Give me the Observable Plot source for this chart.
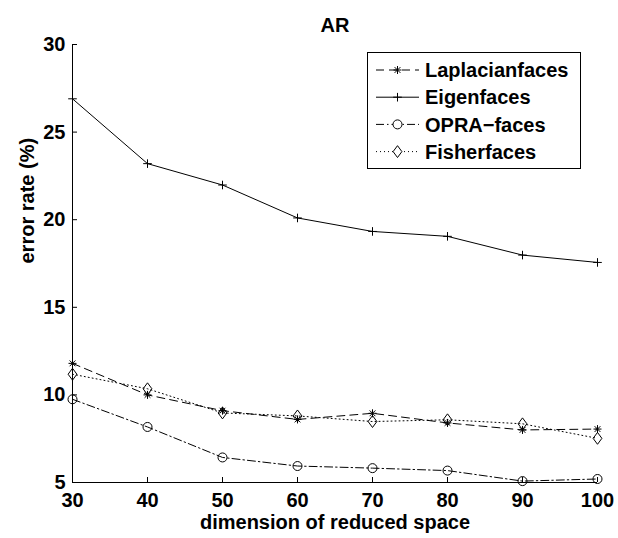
<!DOCTYPE html>
<html>
<head>
<meta charset="utf-8">
<script src="https://cdn.jsdelivr.net/npm/d3@7"></script>
<script src="https://cdn.jsdelivr.net/npm/@observablehq/plot@0.6"></script>
<style>
  html, body { margin: 0; padding: 0; background: #fff; }
  #chart { position: relative; width: 618px; height: 538px; }
</style>
</head>
<body>
<div id="chart"></div>
<script>
// ---- data ----
const dims = [30, 40, 50, 60, 70, 80, 90, 100];
const laplacianfaces = [11.8, 10.0, 9.1, 8.6, 8.95, 8.4, 8.0, 8.05];
const eigenfaces     = [26.9, 23.2, 21.98, 20.1, 19.33, 19.05, 17.98, 17.56];
const opraFaces      = [9.75, 8.17, 6.43, 5.94, 5.82, 5.68, 5.08, 5.2];
const fisherfaces    = [11.18, 10.35, 8.97, 8.8, 8.48, 8.58, 8.35, 7.52];
const xTicks = [30, 40, 50, 60, 70, 80, 90, 100];
const yTicks = [5, 10, 15, 20, 25, 30];
const seriesNames = ["Laplacianfaces", "Eigenfaces", "OPRA\u2212faces", "Fisherfaces"];
const titleText = "AR";
const xLabel = "dimension of reduced space";
const yLabel = "error rate (%)";

// ---- symbols (MATLAB-like markers) ----
const rad = s => Math.sqrt(s / Math.PI);
const symStar = {draw(c, s) { const r = rad(s), d = r * 0.72;
  c.moveTo(-r, 0); c.lineTo(r, 0); c.moveTo(0, -r); c.lineTo(0, r);
  c.moveTo(-d, -d); c.lineTo(d, d); c.moveTo(-d, d); c.lineTo(d, -d); }};
const symPlus = {draw(c, s) { const r = rad(s);
  c.moveTo(-r, 0); c.lineTo(r, 0); c.moveTo(0, -r); c.lineTo(0, r); }};
const symCircle = {draw(c, s) { const r = rad(s); c.moveTo(r, 0); c.arc(0, 0, r, 0, 2 * Math.PI); }};
const symDiamond = {draw(c, s) { const r = rad(s);
  c.moveTo(0, -r * 1.35); c.lineTo(r, 0); c.lineTo(0, r * 1.35); c.lineTo(-r, 0); c.closePath(); }};

const series = [
  {name: seriesNames[0], values: laplacianfaces, dash: "8,5", symbol: symStar, r: 4},
  {name: seriesNames[1], values: eigenfaces, dash: null, symbol: symPlus, r: 4.3},
  {name: seriesNames[2], values: opraFaces, dash: "8,3,1.5,3", symbol: symCircle, r: 4.5},
  {name: seriesNames[3], values: fisherfaces, dash: "1,3", symbol: symDiamond, r: 4.4}
];

const W = 618, H = 538;
const mL = 72, mR = 21, mT = 44, mB = 56;
const frameW = W - mL - mR, frameH = H - mT - mB;
const font = "'Liberation Sans', Arial, Helvetica, sans-serif";

const marks = [];
for (const s of series) {
  const rows = dims.map((d, i) => ({x: d, y: s.values[i]}));
  marks.push(Plot.line(rows, {x: "x", y: "y", stroke: "#000", strokeWidth: 1,
    strokeDasharray: s.dash || undefined}));
  marks.push(Plot.dot(rows, {x: "x", y: "y", symbol: s.symbol, r: s.r,
    stroke: "#000", fill: "none", strokeWidth: 1}));
}

const chart = Plot.plot({
  width: W, height: H,
  marginLeft: mL, marginRight: mR, marginTop: mT, marginBottom: mB,
  style: {fontFamily: font, fontWeight: "bold", fontSize: "20px", color: "#000", background: "#fff", overflow: "visible"},
  x: {domain: [xTicks[0], xTicks[xTicks.length - 1]]},
  y: {domain: [yTicks[0], yTicks[yTicks.length - 1]]},
  marks: [
    ...marks,
    Plot.ruleX([xTicks[0]], {stroke: "#000", strokeWidth: 1}),
    Plot.ruleY([yTicks[0]], {stroke: "#000", strokeWidth: 1}),
    Plot.ruleY(yTicks, {y: d => d, stroke: "#000", insetRight: frameW - 5}),
    Plot.ruleX(xTicks, {x: d => d, stroke: "#000", insetTop: frameH - 5}),
    Plot.axisX({ticks: xTicks, tickSize: 0, tickPadding: 10, label: null, fontSize: 20}),
    Plot.axisY({ticks: yTicks, tickSize: 0, tickPadding: 7, label: null, fontSize: 20}),
    Plot.text([titleText], {text: d => d, frameAnchor: "top", lineAnchor: "bottom", dy: -12.5, fontSize: 20, fontWeight: "bold"}),
    Plot.text([xLabel], {text: d => d, frameAnchor: "bottom", lineAnchor: "bottom", dy: 46, fontSize: 20, fontWeight: "bold"}),
    Plot.text([yLabel], {text: d => d, frameAnchor: "left", lineAnchor: "bottom", rotate: -90, dx: -39, fontSize: 20, fontWeight: "bold"})
  ]
});
document.getElementById("chart").appendChild(chart);

// ---- legend (inside the axes, top right) ----
const svg = d3.select(chart);
const lg = svg.append("g").attr("class", "legend").attr("text-anchor", "start");
const box = {x: 367.5, y: 52.5, w: 213, h: 116};
lg.append("rect").attr("x", box.x).attr("y", box.y).attr("width", box.w).attr("height", box.h)
  .attr("fill", "#fff").attr("stroke", "#000").attr("stroke-width", 1);
series.forEach((s, i) => {
  const cy = 70 + i * 27.2;
  lg.append("line").attr("x1", 376).attr("x2", 419).attr("y1", cy).attr("y2", cy)
    .attr("stroke", "#000").attr("stroke-width", 1)
    .attr("stroke-dasharray", s.dash || null);
  lg.append("path").attr("transform", `translate(397.5,${cy})`)
    .attr("d", d3.symbol(s.symbol, s.r * s.r * Math.PI)())
    .attr("fill", "#fff").attr("stroke", "#000").attr("stroke-width", 1);
  lg.append("text").attr("x", 425).attr("y", cy).attr("dy", "0.36em")
    .attr("text-anchor", "start")
    .attr("font-family", font).attr("font-weight", "bold").attr("font-size", 20)
    .attr("fill", "#000").text(s.name);
});
</script>
</body>
</html>
